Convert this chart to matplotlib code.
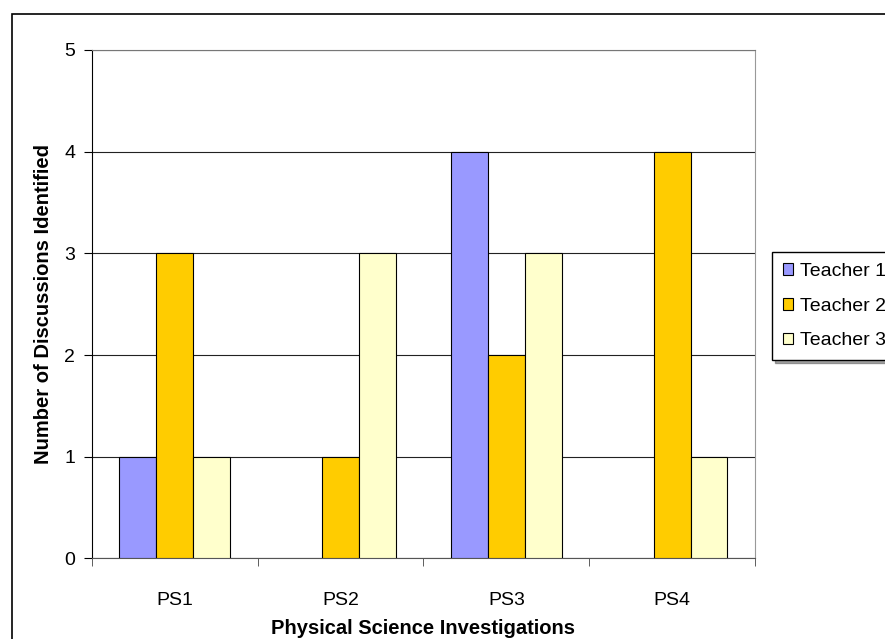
import matplotlib.pyplot as plt
from matplotlib.patches import Rectangle
import numpy as np

plt.rcParams['font.family'] = ['Liberation Sans', 'DejaVu Sans']

investigations = ['PS1', 'PS2', 'PS3', 'PS4']
teacher1 = [1, 0, 4, 0]
teacher2 = [3, 1, 2, 4]
teacher3 = [1, 3, 3, 1]
series = ['Teacher 1', 'Teacher 2', 'Teacher 3']
colors = ['#9999FF', '#FFCC00', '#FFFFCC']

fig = plt.figure(figsize=(8.85, 6.39), dpi=100)
ax = fig.add_axes([0.104, 0.126, 0.749, 0.796])

# outer chart border (runs past right/bottom edge)
fig.patches.append(Rectangle((12 / 885, -0.1), 1.0, 1 - 14 / 639 + 0.1,
                             transform=fig.transFigure, fill=False,
                             edgecolor='black', linewidth=1.2))

x = np.arange(len(investigations))
w = 0.223
for i, (vals, c, name) in enumerate(zip([teacher1, teacher2, teacher3], colors, series)):
    vals = np.array(vals, dtype=float)
    lw = np.where(vals > 0, 0.8, 0.0)
    ax.bar(x + (i - 1) * w, vals, w, color=c, edgecolor='black', linewidth=lw,
           label=name, zorder=3)

ax.set_xlim(-0.5, 3.5)
ax.set_ylim(0, 5)
ax.set_yticks(range(6))
ax.set_xticks(x)
ax.set_xticklabels(investigations)
ax.set_xticks(np.arange(-0.5, 4, 1), minor=True)
ax.tick_params(axis='x', which='major', length=0, pad=24, labelsize=14)
ax.tick_params(axis='x', which='minor', length=6, direction='out', color='#444444')
ax.tick_params(axis='y', length=6, direction='out', labelsize=14, pad=6)
ax.grid(axis='y', color='#222222', linewidth=0.8, zorder=0)

ax.spines['top'].set_color('#777777')
ax.spines['right'].set_color('#999999')
ax.spines['left'].set_color('black')
ax.spines['bottom'].set_color('#555555')

ax.set_ylabel('Number of Discussions Identified', fontsize=14.5, fontweight='bold', labelpad=8)
ax.set_xlabel('Physical Science Investigations', fontsize=14.5, fontweight='bold', labelpad=7)

leg = fig.legend(loc='upper left', bbox_to_anchor=(772 / 885, 1 - 252 / 639),
                 fontsize=14, frameon=True, fancybox=False, edgecolor='black',
                 framealpha=1, shadow=True, handlelength=0.55, handleheight=0.55,
                 handletextpad=0.36, borderpad=0.55, labelspacing=0.92, borderaxespad=0)
leg.get_frame().set_linewidth(1.0)
for h in leg.legend_handles:
    h.set_linewidth(0.8)

fig.savefig('out.png', dpi=100)
